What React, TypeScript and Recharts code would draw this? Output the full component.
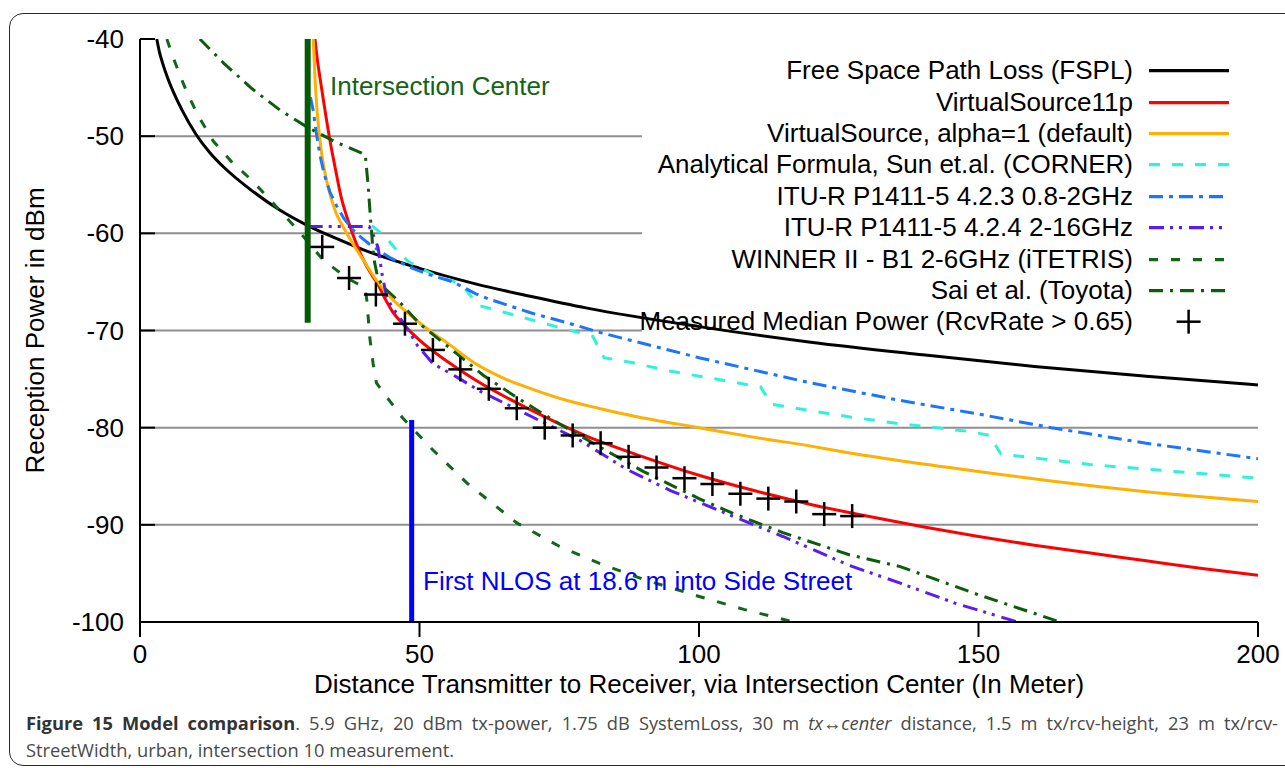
import { ComposedChart, Line, XAxis, YAxis, ReferenceLine, Legend, Label } from "recharts";

// distances in m, powers in dBm
const fsplDist = [3.0, 3.5, 4, 5, 6, 7.5, 10, 12.5, 15, 20, 25, 30, 35, 40, 50, 60, 70, 80, 100, 120, 140, 160, 180, 200];
const fsplPower = [-40, -41.4, -42.4, -44.1, -45.5, -47.3, -49.8, -51.7, -53.2, -55.6, -57.6, -59.2, -60.5, -61.7, -63.6, -65.2, -66.5, -67.7, -69.6, -71.2, -72.5, -73.7, -74.7, -75.6];

const vs11pDist = [31.3, 31.7, 32.2, 33, 34, 35, 36, 37, 38, 39, 40.2, 41.5, 42.5, 44, 45, 47.5, 50, 55, 60, 70, 80, 90, 100, 110, 120, 130, 140, 150, 160, 170, 180, 190, 200];
const vs11pPower = [-40, -42, -44, -47, -50.5, -53.5, -56.3, -58.3, -60, -61.5, -63, -64.3, -65.2, -66.9, -67.9, -69.6, -71.0, -73.2, -75.1, -78.2, -80.9, -83.0, -84.9, -86.5, -87.9, -89.1, -90.2, -91.2, -92.1, -92.9, -93.7, -94.5, -95.2];

const vsAlphaDist = [31.0, 31.3, 31.7, 32.2, 33, 34, 35, 36.5, 38, 40, 42.5, 45, 47.5, 50, 52.5, 55, 60, 65, 70, 76.4, 82, 88.2, 100, 110, 120, 127, 136, 150, 163, 180, 200];
const vsAlphaPower = [-40, -44, -47.5, -50.5, -53.5, -56, -57.8, -59.5, -61, -62.8, -65, -66.7, -68.0, -69.2, -70.3, -71.3, -73.4, -74.9, -76.0, -77.2, -78.0, -78.8, -80.0, -81.0, -81.9, -82.6, -83.4, -84.5, -85.5, -86.6, -87.6];

const sunDist = [41.5, 44, 46, 48, 50, 53, 56, 58, 60.5, 65, 70, 75.7, 81, 83, 88, 95, 103, 111, 113, 127, 136, 148.5, 152, 154, 170, 185, 200];
const sunPower = [-59.2, -60.4, -61.8, -62.9, -63.5, -64.4, -64.9, -65.6, -67.4, -68.1, -68.9, -69.8, -70.6, -72.8, -73.3, -74.2, -75.0, -75.8, -77.6, -78.9, -79.6, -80.4, -80.8, -82.7, -83.8, -84.5, -85.2];

const itu423Dist = [30.5, 31, 31.5, 32.2, 33, 34, 35.2, 36.5, 38, 39.5, 41, 44.7, 48.8, 52, 56, 60, 62.6, 70, 77, 82.3, 87.7, 100, 120, 136, 150, 163, 180, 200];
const itu423Power = [-46, -47.4, -49.5, -52, -54, -55.8, -57.2, -58.5, -59.6, -60.4, -61.1, -62.5, -63.6, -64.3, -65.0, -66.2, -66.8, -68.2, -69.3, -70.2, -71.0, -72.8, -75.4, -77.2, -78.6, -80.0, -81.6, -83.2];

const itu424Dist = [30, 41, 42, 42.6, 43.3, 44.1, 45, 46.5, 48, 49.7, 52.4, 56.7, 61, 66.7, 71.6, 78.7, 87.1, 95, 106, 115, 127, 136, 146, 157];
const itu424Power = [-59.3, -59.3, -60.5, -61.5, -64.2, -66.5, -67.5, -68.7, -70, -71.6, -73.4, -74.8, -76.3, -77.9, -79.3, -81.3, -84.3, -86.5, -89.1, -91.2, -94.2, -96.0, -98.1, -100];

const winnerDist = [4.8, 6, 7.2, 8.4, 10.5, 13.1, 16.5, 20.3, 23, 25.6, 28.6, 32.7, 37, 40.3, 40.6, 41.1, 41.7, 42.3, 44.2, 47, 52.4, 58.5, 67.4, 75, 82.3, 90, 100.2, 108, 117];
const winnerPower = [-40, -42, -43.8, -45.5, -48, -50.5, -52.7, -54.7, -56.4, -58, -59.9, -62.7, -64.6, -65.6, -67, -70.7, -73.4, -75.4, -76.9, -79, -82.3, -85.7, -89.8, -92.2, -94, -95.6, -97.4, -98.7, -100];

const saiDist = [10.7, 15, 20, 25, 30, 35, 40.3, 40.8, 41.3, 41.8, 42.5, 43.5, 46.5, 50, 56.7, 61.4, 67.4, 75, 82.3, 90, 100, 106, 115, 127, 136, 150, 164.6];
const saiPower = [-40, -42.5, -45.1, -47.3, -49.1, -50.6, -51.9, -55, -59, -62.5, -64.5, -65.5, -67.1, -69.3, -72.4, -74.6, -76.9, -79.6, -82.0, -84.5, -87.3, -88.8, -90.8, -93.1, -94.3, -97.2, -100];

const measuredDist = [32.6, 37.4, 42.2, 47.4, 52.4, 57.3, 62.4, 67.4, 72.4, 77.4, 82.4, 87.4, 92.4, 97.4, 102.4, 107.4, 112.4, 117.4, 122.4, 127.4];
const measuredPower = [-61.4, -64.6, -66.3, -69.3, -72.0, -74.0, -76.0, -78.0, -80.0, -80.8, -81.6, -83.0, -84.1, -85.2, -85.8, -86.8, -87.3, -87.6, -88.9, -89.1];

const xTicks = [0, 50, 100, 150, 200];
const yTicks = [-100, -90, -80, -70, -60, -50, -40];
const innerTicks = [-90, -80, -70, -60, -50];

const intersectionX = 30;
const intersectionBottom = -69.2;
const nlosX = 48.6;
const nlosTop = -79.2;
const legendEdge = 89.8; // grid stops behind the key

const toPoints = (xs: number[], ys: number[]) => xs.map((x, i) => ({ x, y: ys[i] }));

type Series = {
  key: string;
  name: string;
  color: string;
  dash?: string;
  curve: "monotone" | "linear";
  data: { x: number; y: number }[];
  marker?: boolean;
};

const series: Series[] = [
  { key: "fspl", name: "Free Space Path Loss (FSPL)", color: "#000000", curve: "monotone", data: toPoints(fsplDist, fsplPower) },
  { key: "vs11p", name: "VirtualSource11p", color: "#ff0000", curve: "monotone", data: toPoints(vs11pDist, vs11pPower) },
  { key: "vsa", name: "VirtualSource, alpha=1 (default)", color: "#ffb000", curve: "monotone", data: toPoints(vsAlphaDist, vsAlphaPower) },
  { key: "sun", name: "Analytical Formula, Sun et.al. (CORNER)", color: "#2ff2d6", dash: "11 12", curve: "linear", data: toPoints(sunDist, sunPower) },
  { key: "itu423", name: "ITU-R P1411-5 4.2.3 0.8-2GHz", color: "#1c74ff", dash: "14 6 4 6", curve: "linear", data: toPoints(itu423Dist, itu423Power) },
  { key: "itu424", name: "ITU-R P1411-5 4.2.4 2-16GHz", color: "#5a1cf5", dash: "15 6 3 6 3 7", curve: "linear", data: toPoints(itu424Dist, itu424Power) },
  { key: "winner", name: "WINNER II - B1 2-6GHz (iTETRIS)", color: "#12661a", dash: "9 13", curve: "linear", data: toPoints(winnerDist, winnerPower) },
  { key: "sai", name: "Sai et al. (Toyota)", color: "#0c5c0c", dash: "14 7 3 7", curve: "linear", data: toPoints(saiDist, saiPower) },
  { key: "measured", name: "Measured Median Power (RcvRate > 0.65)", color: "#000000", curve: "linear", data: toPoints(measuredDist, measuredPower), marker: true },
];

const FONT = '"Liberation Sans", Arial, sans-serif';

const Plus = ({ cx, cy }: { cx: number; cy: number }) => (
  <g>
    <line x1={cx - 12} x2={cx + 12} y1={cy} y2={cy} stroke="#000" strokeWidth={2.5} />
    <line x1={cx} x2={cx} y1={cy - 12} y2={cy + 12} stroke="#000" strokeWidth={2.5} />
  </g>
);

const renderPlus = (props: any) => <Plus key={`m-${props.index}`} cx={props.cx} cy={props.cy} />;

const LeftTick = (props: any) => {
  const { x, y, payload } = props;
  return (
    <g>
      <line x1={x + 16} x2={x + 31} y1={y} y2={y} stroke="#000" strokeWidth={2} />
      <text x={x} y={y} dy={9} textAnchor="end" fontSize={26} fill="#000" fontFamily={FONT}>
        {payload.value}
      </text>
    </g>
  );
};

const RightTick = (props: any) => {
  const { x, y } = props;
  return <line x1={x - 14} x2={x} y1={y} y2={y} stroke="#000" strokeWidth={2} />;
};

const ROW = 31.4;

const KeyBox = () => (
  <div style={{ fontFamily: FONT, fontSize: 26, color: "#000" }}>
    {series.map((s) => (
      <div key={s.key} style={{ display: "flex", alignItems: "center", height: ROW }}>
        <span style={{ flex: 1, textAlign: "right", whiteSpace: "nowrap", lineHeight: `${ROW}px` }}>{s.name}</span>
        <svg width={100} height={ROW} style={{ display: "block" }}>
          {s.marker ? (
            <Plus cx={55.6} cy={ROW / 2} />
          ) : (
            <line x1={16} x2={96} y1={ROW / 2} y2={ROW / 2} stroke={s.color} strokeWidth={3.2} strokeDasharray={s.dash} />
          )}
        </svg>
      </div>
    ))}
  </div>
);

export default function App() {
  return (
    <div style={{ position: "absolute", left: 0, top: 0, width: 1285, height: 768, overflow: "hidden", background: "#fff" }}>
      <div
        style={{
          position: "absolute",
          left: 9,
          top: 13,
          width: 1310,
          height: 751,
          border: "1.5px solid #2a2a2a",
          borderRadius: 14,
        }}
      />
      <div style={{ position: "absolute", left: 0, top: 0, fontFamily: FONT }}>
        <ComposedChart width={1285} height={710} margin={{ top: 39, right: 27, left: 0, bottom: 0 }}>
          <XAxis
            dataKey="x"
            type="number"
            domain={[0, 200]}
            ticks={xTicks}
            allowDataOverflow
            height={88}
            tickSize={15}
            tickMargin={8}
            tick={{ fill: "#000", fontSize: 26, fontFamily: FONT }}
            axisLine={{ stroke: "#000", strokeWidth: 2 }}
            tickLine={{ stroke: "#000", strokeWidth: 2 }}
          >
            <Label
              value="Distance Transmitter to Receiver, via Intersection Center (In Meter)"
              position="insideBottom"
              offset={17}
              fill="#000"
              fontSize={26}
              fontFamily={FONT}
            />
          </XAxis>
          <XAxis
            xAxisId="top"
            orientation="top"
            type="number"
            domain={[0, 200]}
            height={0}
            tick={false}
            tickLine={false}
            axisLine={{ stroke: "#000", strokeWidth: 2 }}
          />
          <YAxis
            type="number"
            domain={[-100, -40]}
            ticks={yTicks}
            allowDataOverflow
            width={140}
            tickSize={0}
            tickMargin={16}
            tickLine={false}
            tick={<LeftTick />}
            axisLine={{ stroke: "#000", strokeWidth: 2 }}
          >
            <Label
              value="Reception Power in dBm"
              angle={-90}
              position="insideLeft"
              offset={35}
              fill="#000"
              fontSize={26}
              fontFamily={FONT}
              style={{ textAnchor: "middle" }}
            />
          </YAxis>
          <YAxis
            yAxisId="right"
            orientation="right"
            type="number"
            domain={[-100, -40]}
            ticks={innerTicks}
            width={0}
            tickSize={0}
            tickMargin={0}
            tickLine={false}
            tick={<RightTick />}
            axisLine={{ stroke: "#000", strokeWidth: 2 }}
          />

          {innerTicks.map((v) => (
            <ReferenceLine
              key={`g${v}`}
              segment={[
                { x: 0, y: v },
                { x: v >= -70 ? legendEdge : 200, y: v },
              ]}
              stroke="#8f8f8f"
              strokeWidth={2}
            />
          ))}

          {series.map((s) =>
            s.marker ? (
              <Line
                key={s.key}
                data={s.data}
                dataKey="y"
                name={s.name}
                stroke="none"
                dot={renderPlus}
                activeDot={false}
                isAnimationActive={false}
              />
            ) : (
              <Line
                key={s.key}
                data={s.data}
                dataKey="y"
                name={s.name}
                type={s.curve}
                stroke={s.color}
                strokeWidth={3}
                strokeDasharray={s.dash}
                dot={false}
                activeDot={false}
                isAnimationActive={false}
              />
            )
          )}

          <ReferenceLine
            segment={[
              { x: intersectionX, y: -40 },
              { x: intersectionX, y: intersectionBottom },
            ]}
            stroke="#055a05"
            strokeWidth={6}
          />
          <ReferenceLine
            segment={[
              { x: nlosX, y: nlosTop },
              { x: nlosX, y: -100 },
            ]}
            stroke="#0000ff"
            strokeWidth={5}
          />

          <Legend
            layout="vertical"
            align="center"
            verticalAlign="middle"
            content={() => <KeyBox />}
            wrapperStyle={{ left: 520, top: 55.3, width: 713 }}
          />
        </ComposedChart>
      </div>

      <div style={{ position: "absolute", left: 330, top: 73, fontFamily: FONT, fontSize: 26, lineHeight: "26px", color: "#146414", whiteSpace: "nowrap" }}>
        Intersection Center
      </div>
      <div style={{ position: "absolute", left: 423, top: 568, fontFamily: FONT, fontSize: 26, lineHeight: "26px", color: "#0000ff", whiteSpace: "nowrap" }}>
        First NLOS at 18.6 m into Side Street
      </div>

      <div
        style={{
          position: "absolute",
          left: 26,
          top: 709,
          width: 1252,
          fontFamily: '"Open Sans", sans-serif',
          fontSize: 18.3,
          lineHeight: "27px",
          color: "#4a4a4a",
        }}
      >
        <div style={{ whiteSpace: "nowrap", textAlign: "justify", textAlignLast: "justify" }}>
          <b style={{ color: "#333" }}>Figure 15 Model comparison</b>. 5.9 GHz, 20 dBm tx-power, 1.75 dB SystemLoss, 30 m{" "}
          <i>tx↔center</i> distance, 1.5 m tx/rcv-height, 23 m tx/rcv-
        </div>
        <div style={{ whiteSpace: "nowrap" }}>StreetWidth, urban, intersection 10 measurement.</div>
      </div>
    </div>
  );
}
